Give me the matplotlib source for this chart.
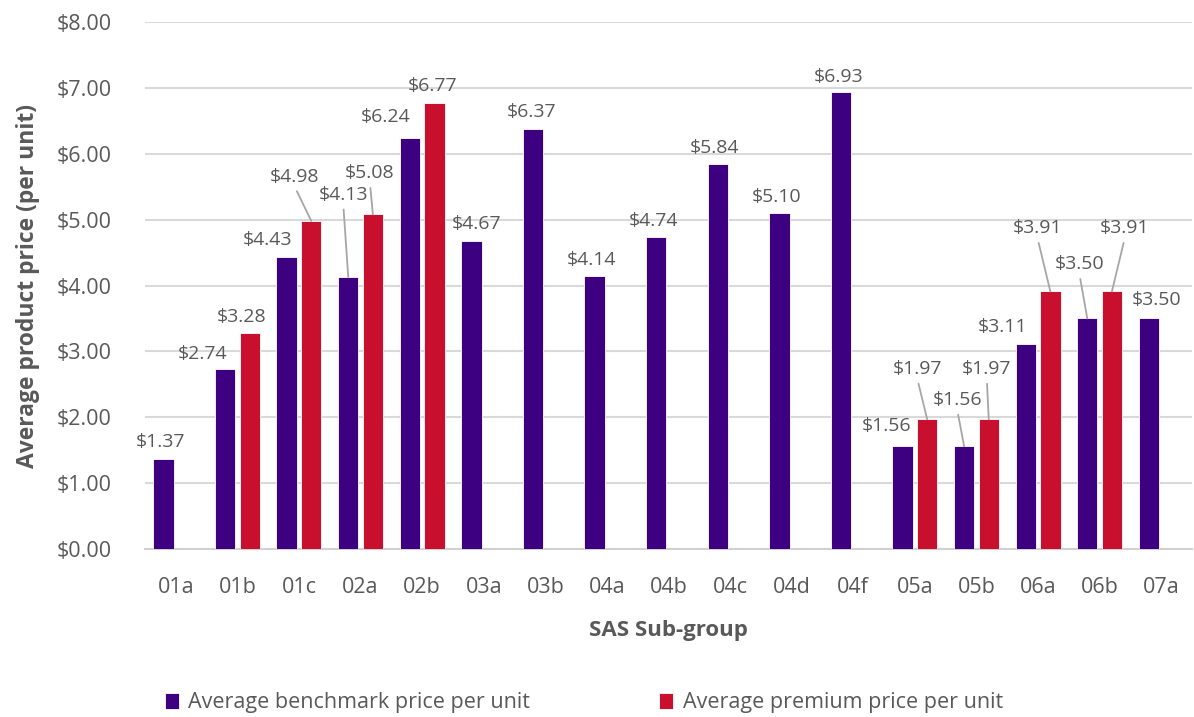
import numpy as np
import matplotlib
matplotlib.use("Agg")
import matplotlib.pyplot as plt
from matplotlib.ticker import FuncFormatter

plt.rcParams['font.family'] = ['Open Sans', 'DejaVu Sans']

# data
groups = ['01a', '01b', '01c', '02a', '02b', '03a', '03b', '04a', '04b',
          '04c', '04d', '04f', '05a', '05b', '06a', '06b', '07a']
benchmark = [1.37, 2.74, 4.43, 4.13, 6.24, 4.67, 6.37, 4.14, 4.74,
             5.84, 5.10, 6.93, 1.56, 1.56, 3.11, 3.50, 3.50]
premium = [np.nan, 3.28, 4.98, 5.08, 6.77, np.nan, np.nan, np.nan, np.nan,
           np.nan, np.nan, np.nan, 1.97, 1.97, 3.91, 3.91, np.nan]

# label offsets in pixels (dx, dy, leader line?)
bench_lbl = [(-3, 17, 0), (-23, 15, 0), (-19, 17, 0), (-5, 82, 1), (-24, 21, 0),
             (5, 17, 0), (-1, 17, 0), (-3, 16, 0), (-3, 16, 0), (-3, 16, 0),
             (-3, 16, 0), (-2, 15, 0), (-16, 20, 0), (-7, 46, 1), (-23, 17, 0),
             (-8, 54, 1), (8, 18, 0)]
prem_lbl = {1: (-8, 16, 0), 2: (-17, 44, 1), 3: (-3, 41, 1), 4: (-2, 17, 0),
            12: (-10, 50, 1), 13: (-2, 50, 1), 14: (-13, 63, 1), 15: (13, 63, 1)}

purple = '#3C0080'
red = '#C8102E'
grey_txt = '#595959'

fig = plt.figure(figsize=(11.94, 7.17), dpi=100)
ax = fig.add_axes([145/1194, 168/717, 1047/1194, 527/717])

x = np.arange(len(groups))
w = 0.33
off = 0.2
b1 = ax.bar(x - off, benchmark, w, color=purple, edgecolor='white', linewidth=0.6,
            label='Average benchmark price per unit', zorder=3)
b2 = ax.bar(x + off, premium, w, color=red, edgecolor='white', linewidth=0.6,
            label='Average premium price per unit', zorder=3)


def put_label(xv, yv, spec):
    dx, dy, lead = spec
    kw = {}
    if lead:
        kw['arrowprops'] = dict(arrowstyle='-', color='#A6A6A6', lw=1.3,
                                shrinkA=2, shrinkB=0, relpos=(0.5, 0))
    ax.annotate('${:.2f}'.format(yv), xy=(xv, yv), xytext=(dx, dy),
                textcoords='offset pixels', ha='center', va='center',
                fontsize=14, color=grey_txt, zorder=4, **kw)


for i, v in enumerate(benchmark):
    put_label(x[i] - off, v, bench_lbl[i])
for i, spec in prem_lbl.items():
    put_label(x[i] + off, premium[i], spec)

ax.set_xlim(-0.5, len(groups) - 0.5)
ax.set_ylim(0, 8)
ax.set_yticks(np.arange(0, 9, 1))
ax.yaxis.set_major_formatter(FuncFormatter(lambda v, p: '${:.2f}'.format(v)))
ax.set_xticks(x)
ax.set_xticklabels(groups)
ax.tick_params(axis='both', length=0, labelsize=15.5, labelcolor=grey_txt)
ax.tick_params(axis='x', pad=20)
ax.tick_params(axis='y', pad=24)

ax.grid(axis='y', color='#D9D9D9', linewidth=1.5, zorder=0)
for s in ['top', 'right', 'left']:
    ax.spines[s].set_visible(False)
ax.spines['bottom'].set_color('#D0D0D0')
ax.spines['bottom'].set_linewidth(1.5)

ax.set_ylabel('Average product price (per unit)', fontsize=16.5, fontweight='bold',
              color=grey_txt)
ax.yaxis.set_label_coords(-0.1, 0.5)
ax.set_xlabel('SAS Sub-group', fontsize=16, fontweight='bold', color=grey_txt)
ax.xaxis.set_label_coords(0.5, -0.135)

fig.legend(handles=[b1, b2], loc='center', bbox_to_anchor=(0.489, 0.02),
           ncol=2, frameon=False, fontsize=15.5, handlelength=0.65, handleheight=0.75,
           handletextpad=0.45, columnspacing=6.0, labelcolor=grey_txt)

fig.savefig('out.png', dpi=100)
